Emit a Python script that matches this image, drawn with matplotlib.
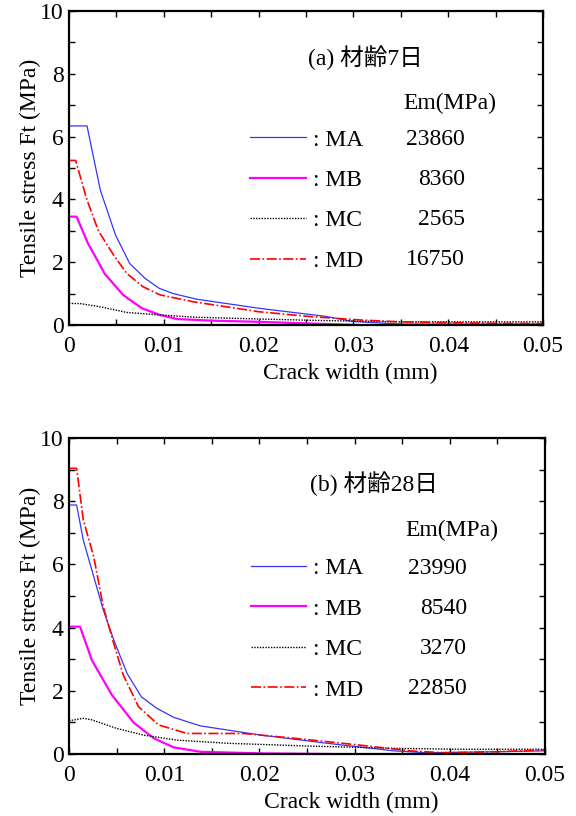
import matplotlib
matplotlib.use("Agg")
import matplotlib.pyplot as plt
from matplotlib.ticker import MultipleLocator, FixedLocator, FixedFormatter

plt.rcParams['font.family'] = ['Liberation Serif', 'Noto Sans CJK JP']

# ---- data: panel (a) 7 days ----
a_MA_x = [0, 0.0019, 0.0033, 0.0049, 0.0064, 0.0080, 0.0095, 0.0110, 0.0135, 0.0201, 0.0272, 0.0300, 0.0350, 0.0500]
a_MA_y = [6.34, 6.34, 4.30, 2.87, 1.96, 1.49, 1.17, 1.00, 0.82, 0.53, 0.27, 0.11, 0.03, 0.03]
a_MB_x = [0, 0.0008, 0.0020, 0.0038, 0.0057, 0.0077, 0.0096, 0.0114, 0.0149, 0.0201, 0.0305]
a_MB_y = [3.45, 3.45, 2.60, 1.62, 0.96, 0.53, 0.32, 0.19, 0.14, 0.10, 0.0]
a_MC_x = [0, 0.0012, 0.0033, 0.0061, 0.0096, 0.0131, 0.0201, 0.0270, 0.0350, 0.0500]
a_MC_y = [0.69, 0.68, 0.58, 0.40, 0.32, 0.25, 0.19, 0.14, 0.10, 0.10]
a_MD_x = [0, 0.0007, 0.0019, 0.0031, 0.0047, 0.0061, 0.0078, 0.0096, 0.0131, 0.0201, 0.0254, 0.0307, 0.0350, 0.0460, 0.0500]
a_MD_y = [5.24, 5.24, 3.98, 3.00, 2.23, 1.64, 1.22, 0.96, 0.74, 0.42, 0.27, 0.16, 0.10, 0.05, 0.05]

# ---- data: panel (b) 28 days ----
b_MA_x = [0, 0.0008, 0.0015, 0.0026, 0.0036, 0.0047, 0.0061, 0.0076, 0.0092, 0.0110, 0.0138, 0.0201, 0.0271, 0.0341, 0.0376, 0.0446, 0.0500]
b_MA_y = [7.88, 7.88, 6.77, 5.61, 4.56, 3.61, 2.55, 1.81, 1.45, 1.16, 0.89, 0.60, 0.34, 0.10, 0.04, 0.07, 0.10]
b_MB_x = [0, 0.00116, 0.0024, 0.0045, 0.0068, 0.0089, 0.0110, 0.0138, 0.0201, 0.0274]
b_MB_y = [4.03, 4.03, 2.97, 1.87, 0.99, 0.50, 0.21, 0.07, 0.02, 0.0]
b_MC_x = [0, 0.0015, 0.0024, 0.0050, 0.0078, 0.0113, 0.0166, 0.0253, 0.0341, 0.0410, 0.0500]
b_MC_y = [1.05, 1.13, 1.08, 0.81, 0.60, 0.44, 0.34, 0.25, 0.18, 0.15, 0.15]
b_MD_x = [0, 0.0008, 0.0015, 0.0026, 0.0036, 0.0047, 0.0057, 0.0073, 0.0094, 0.0124, 0.0183, 0.0236, 0.0306, 0.0358, 0.0393, 0.0446, 0.0500]
b_MD_y = [9.04, 9.04, 7.41, 6.24, 4.66, 3.50, 2.50, 1.50, 0.92, 0.65, 0.65, 0.50, 0.28, 0.10, 0.04, 0.07, 0.13]

series_names = ["MA", "MB", "MC", "MD"]
em_a = ["23860", "8360", "2565", "16750"]
em_b = ["23990", "8540", "3270", "22850"]
titles = ["(a) 材齢7日", "(b) 材齢28日"]
xtick_vals = [0, 0.01, 0.02, 0.03, 0.04, 0.05]
xtick_labels = ["0", "0.01", "0.02", "0.03", "0.04", "0.05"]
ytick_vals = [0, 2, 4, 6, 8, 10]
ytick_labels = ["0", "2", "4", "6", "8", "10"]

styles = {
    "MA": dict(color="#3535ff", lw=0.9, ls="-"),
    "MB": dict(color="#ff00ff", lw=1.6, ls="-"),
    "MC": dict(color="black", lw=1.0, ls=(0, (1, 1))),
    "MD": dict(color="#ff0000", lw=1.2, ls=(0, (6, 1.5, 1, 1.5))),
}

fig = plt.figure(figsize=(5.76, 8.16), dpi=100)
ax_a = fig.add_axes([69/576, 1-325/816, 474/576, 314/816])
ax_b = fig.add_axes([69/576, 1-754/816, 476/576, 316/816])

# layout (axes fractions) per panel
layout = [
    dict(title=(0.6245, 0.850), em=(0.804, 0.707), leg=(0.382, 0.624),
         num_x=0.8354, num_y0=0.590, num_dy=0.1274),
    dict(title=(0.640, 0.857), em=(0.804, 0.709), leg=(0.382, 0.621),
         num_x=0.836, num_y0=0.586, num_dy=0.1266),
]

panels = [
    (ax_a, [(a_MA_x, a_MA_y), (a_MB_x, a_MB_y), (a_MC_x, a_MC_y), (a_MD_x, a_MD_y)], em_a, titles[0]),
    (ax_b, [(b_MA_x, b_MA_y), (b_MB_x, b_MB_y), (b_MC_x, b_MC_y), (b_MD_x, b_MD_y)], em_b, titles[1]),
]

FS = 17
for (ax, data, em, title), L in zip(panels, layout):
    handles = []
    for name, (xs, ys) in zip(series_names, data):
        h, = ax.plot(xs, ys, label=": " + name, **styles[name])
        handles.append(h)
    ax.set_xlim(0, 0.05)
    ax.set_ylim(0, 10)
    ax.xaxis.set_major_locator(FixedLocator(xtick_vals))
    ax.xaxis.set_major_formatter(FixedFormatter(xtick_labels))
    ax.xaxis.set_minor_locator(MultipleLocator(0.005))
    ax.yaxis.set_major_locator(FixedLocator(ytick_vals))
    ax.yaxis.set_major_formatter(FixedFormatter(ytick_labels))
    ax.yaxis.set_minor_locator(MultipleLocator(1))
    ax.tick_params(which="both", direction="in", top=True, right=True,
                   length=4.5, width=1.0, labelsize=FS)
    ax.tick_params(axis="x", pad=8)
    ax.tick_params(axis="y", pad=4)
    for s in ax.spines.values():
        s.set_linewidth(1.6)
    ax.set_xlabel("Crack width (mm)", fontsize=FS)
    ax.xaxis.set_label_coords((350-69)/474, -0.121)
    ax.set_ylabel("Tensile stress Ft (MPa)", fontsize=FS)
    ax.yaxis.set_label_coords(-0.058, 0.5)
    ax.text(*L["title"], title, transform=ax.transAxes, fontsize=FS,
            ha="center", va="center")
    ax.text(*L["em"], "Em(MPa)", transform=ax.transAxes, fontsize=FS,
            ha="center", va="center")
    ax.legend(handles=handles, loc="upper left",
              bbox_to_anchor=L["leg"], frameon=False,
              fontsize=FS, handlelength=2.35, handletextpad=0.3,
              labelspacing=0.8, borderaxespad=0, borderpad=0)
    for i, v in enumerate(em):
        ax.text(L["num_x"], L["num_y0"] - i*L["num_dy"], v, transform=ax.transAxes,
                fontsize=FS, ha="right", va="center")

fig.savefig("out.png", dpi=100)
